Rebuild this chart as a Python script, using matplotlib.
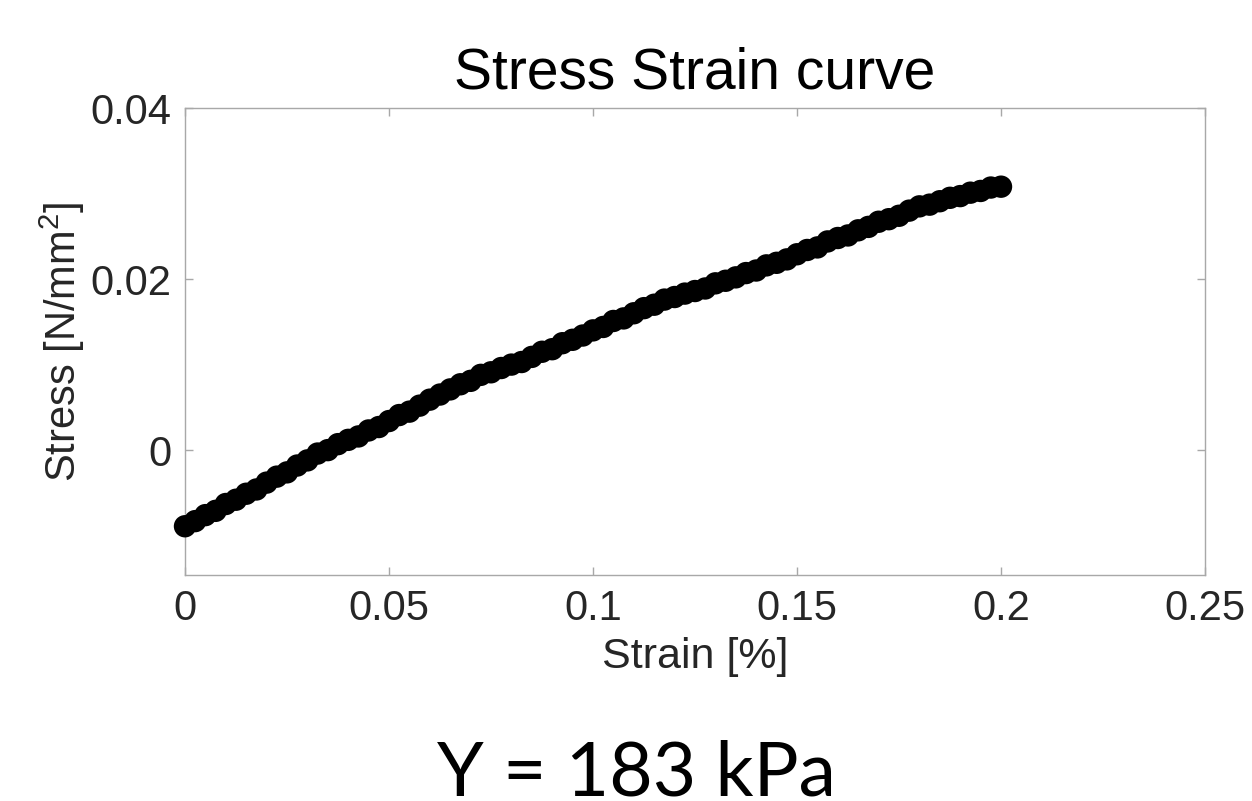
import matplotlib
matplotlib.use("Agg")
import matplotlib.pyplot as plt

# strain [%] and stress [N/mm^2]
strain = [0.0000, 0.0025, 0.0050, 0.0075, 0.0100, 0.0125, 0.0150, 0.0175, 0.0200, 0.0225,
          0.0250, 0.0275, 0.0300, 0.0325, 0.0350, 0.0375, 0.0400, 0.0425, 0.0450, 0.0475,
          0.0500, 0.0525, 0.0550, 0.0575, 0.0600, 0.0625, 0.0650, 0.0675, 0.0700, 0.0725,
          0.0750, 0.0775, 0.0800, 0.0825, 0.0850, 0.0875, 0.0900, 0.0925, 0.0950, 0.0975,
          0.1000, 0.1025, 0.1050, 0.1075, 0.1100, 0.1125, 0.1150, 0.1175, 0.1200, 0.1225,
          0.1250, 0.1275, 0.1300, 0.1325, 0.1350, 0.1375, 0.1400, 0.1425, 0.1450, 0.1475,
          0.1500, 0.1525, 0.1550, 0.1575, 0.1600, 0.1625, 0.1650, 0.1675, 0.1700, 0.1725,
          0.1750, 0.1775, 0.1800, 0.1825, 0.1850, 0.1875, 0.1900, 0.1925, 0.1950, 0.1975,
          0.2000]
stress = [-0.0089, -0.0083, -0.0076, -0.0071, -0.0063, -0.0058, -0.0051, -0.0046, -0.0038, -0.0031,
          -0.0026, -0.0018, -0.0012, -0.0004, 0.0000, 0.0007, 0.0012, 0.0016, 0.0023, 0.0027,
          0.0034, 0.0041, 0.0045, 0.0052, 0.0059, 0.0065, 0.0071, 0.0077, 0.0081, 0.0088,
          0.0091, 0.0096, 0.0100, 0.0103, 0.0109, 0.0115, 0.0118, 0.0125, 0.0129, 0.0134,
          0.0140, 0.0144, 0.0151, 0.0154, 0.0160, 0.0166, 0.0170, 0.0176, 0.0179, 0.0183,
          0.0186, 0.0189, 0.0195, 0.0198, 0.0202, 0.0207, 0.0210, 0.0216, 0.0219, 0.0223,
          0.0229, 0.0234, 0.0237, 0.0244, 0.0248, 0.0251, 0.0257, 0.0261, 0.0267, 0.0270,
          0.0274, 0.0280, 0.0285, 0.0287, 0.0291, 0.0295, 0.0297, 0.0301, 0.0303, 0.0307,
          0.0308]
xticks = [0, 0.05, 0.1, 0.15, 0.2, 0.25]
xticklabels = ["0", "0.05", "0.1", "0.15", "0.2", "0.25"]
yticks = [0, 0.02, 0.04]
yticklabels = ["0", "0.02", "0.04"]

plt.rcParams['font.family'] = ['Liberation Sans', 'DejaVu Sans']
plt.rcParams['mathtext.fontset'] = 'custom'
plt.rcParams['mathtext.rm'] = 'Liberation Sans'
plt.rcParams['mathtext.it'] = 'Liberation Sans'

fig = plt.figure(figsize=(12.52, 8.01), dpi=100)
ax = fig.add_axes([185/1252, 1-575/801, 1020/1252, 467/801])

ax.scatter(strain, stress, s=260, c='black', edgecolors='none', clip_on=False, zorder=3)

ax.set_xlim(0, 0.25)
ax.set_ylim(-0.0146, 0.04)
ax.set_xticks(xticks)
ax.set_xticklabels(xticklabels)
ax.set_yticks(yticks)
ax.set_yticklabels(yticklabels)

for sp in ax.spines.values():
    sp.set_color('#a8a8a8')
    sp.set_linewidth(1.0)
ax.tick_params(direction='in', length=6, width=1, color='#a8a8a8',
               top=True, right=True, labelsize=30, labelcolor='#262626', pad=10)

ax.set_title("Stress Strain curve", fontsize=41, color='black', pad=14)
ax.set_xlabel("Strain [%]", fontsize=31, color='#262626', labelpad=6)
ax.set_ylabel("Stress [N/mm$^2$]", fontsize=30, color='#262626', labelpad=2)

fig.text(636/1252, 1-795/801, "Y = 183 kPa", family=['Lato', 'DejaVu Sans'],
         fontsize=54, ha='center', va='baseline', color='black')

plt.savefig("out.png", dpi=100)
